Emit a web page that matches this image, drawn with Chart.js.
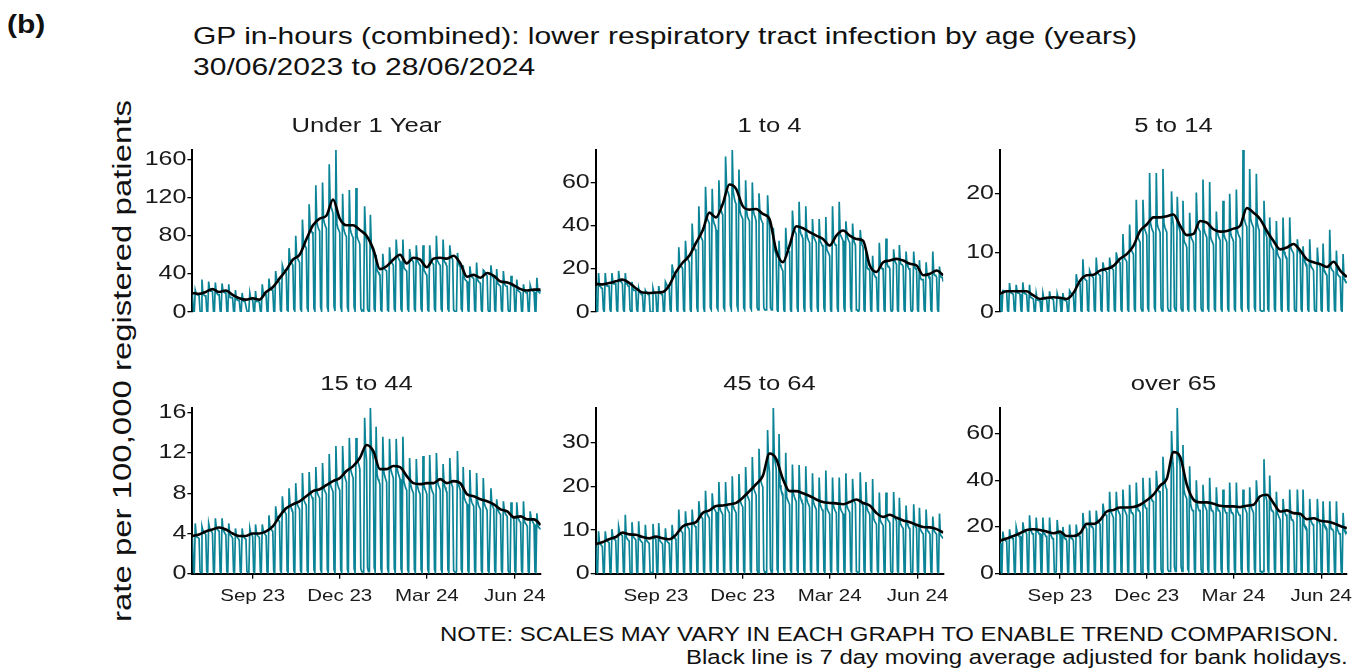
<!DOCTYPE html>
<html><head><meta charset="utf-8">
<script src="https://cdn.jsdelivr.net/npm/chart.js@4.4.1/dist/chart.umd.min.js"></script>
<style>
html,body{margin:0;padding:0;background:#fff;width:1365px;height:671px;overflow:hidden;position:relative;font-family:"Liberation Sans",Arial,sans-serif;color:#111}
canvas{position:absolute}
.t{position:absolute;white-space:nowrap;transform-origin:0 50%}
</style></head><body>
<div class="t" style="left:7px;top:8.8px;font-size:25px;font-weight:bold;line-height:30px;transform:scaleX(1.2)">(b)</div>
<div class="t" style="left:193px;top:19.8px;font-size:24px;line-height:31px;transform:scaleX(1.251)">GP in-hours (combined): lower respiratory tract infection by age (years)<br>30/06/2023 to 28/06/2024</div>
<div class="t" style="left:-177.6px;top:341px;width:600px;height:40px;line-height:40px;text-align:center;font-size:26.5px;transform-origin:50% 50%;transform:rotate(-90deg) scaleX(1.243)">rate per 100,000 registered patients</div>
<div class="t" style="left:440px;top:620.7px;font-size:20px;line-height:26px;transform:scaleX(1.196)">NOTE: SCALES MAY VARY IN EACH GRAPH TO ENABLE TREND COMPARISON.</div>
<div class="t" style="left:686px;top:644.2px;font-size:20px;line-height:26px;transform:scaleX(1.2)">Black line is 7 day moving average adjusted for bank holidays.</div>
<canvas id="c0" width="421" height="220"></canvas>
<canvas id="c1" width="421" height="220"></canvas>
<canvas id="c2" width="418" height="220"></canvas>
<canvas id="c3" width="421" height="255"></canvas>
<canvas id="c4" width="421" height="255"></canvas>
<canvas id="c5" width="418" height="255"></canvas>
<script>
// ---- data (day 0 = 30/06/2023, day 364 = 28/06/2024) ----
const panelNames = ['Under 1 Year','1 to 4','5 to 14','15 to 44','45 to 64','over 65'];
const xTickDays = [63,154,245,337];
const xTickLabels = ['Sep 23','Dec 23','Mar 24','Jun 24'];
const yTicks = [[0,40,80,120,160],[0,20,40,60],[0,10,20],[0,4,8,12,16],[0,10,20,30],[0,20,40,60]];
const maStepDays = 7;

const under1 = [18,1,0,
23,19,18,18,17,1,0, 34,19,18,17,17,1,0, 32,23,22,22,21,1,0, 31,20,19,18,18,1,0, 30,22,21,20,20,1,0,
29,16,15,15,15,1,0, 23,13,13,12,12,1,0, 20,12,11,11,11,1,0, 1,20,14,13,13,1,0, 22,11,11,11,10,1,0,
29,20,19,19,18,1,0, 35,25,24,23,23,1,0, 43,35,33,32,31,2,0, 49,45,43,42,41,2,1, 67,55,53,51,49,3,1,
80,58,56,54,52,3,1, 97,75,71,69,67,4,1, 113,91,86,84,81,4,1, 133,95,90,87,85,5,1, 136,98,93,90,88,5,1,
155,115,110,107,103,6,1, 170,93,88,86,83,5,1, 124,88,84,81,79,5,1, 128,87,83,80,78,5,1, 130,80,76,74,71,4,1,
2,1,111,82,74,3,1, 1,102,70,66,62,3,1, 60,44,42,40,39,2,1, 61,47,45,44,43,2,1, 68,55,52,51,49,3,1,
76,59,57,55,53,3,1, 76,47,45,44,43,3,1, 66,58,55,54,52,3,1, 70,54,52,50,49,3,1, 70,44,42,40,39,2,1,
70,56,53,51,50,3,1, 80,54,52,50,49,3,1, 76,54,52,50,48,3,1, 70,59,57,55,2,1,0, 1,62,52,49,47,3,1,
49,36,34,33,32,2,0, 48,39,37,36,35,2,0, 52,34,32,31,30,2,0, 44,43,41,39,38,2,0, 1,49,39,37,35,2,0,
45,30,29,28,27,2,0, 43,30,28,27,27,2,0, 1,38,29,27,26,1,0, 34,23,22,21,20,1,0, 29,22,21,20,20,1,0,
28,24,23,22,21,1,0, 36,22,21,20,23];

const age1to4 = [12,1,0,
18,12,12,11,11,1,0, 18,13,12,12,12,1,0, 18,14,13,13,13,1,0, 19,15,14,14,13,1,0, 18,13,13,12,12,1,0,
14,11,10,10,10,1,0, 11,9,9,8,8,0,0, 10,9,9,8,8,0,0, 0,11,9,9,8,0,0, 12,9,9,8,8,0,0,
14,13,12,12,11,1,0, 22,19,18,17,17,1,0, 30,22,21,21,20,1,0, 33,26,25,24,23,1,0, 41,32,30,29,28,2,0,
49,37,35,34,33,2,0, 58,46,43,42,41,2,1, 57,43,41,40,38,2,1, 61,50,48,46,45,2,1, 72,59,56,55,53,3,1,
75,56,53,51,50,3,1, 66,47,45,44,43,2,1, 61,47,44,43,42,2,1, 60,47,45,44,42,2,1, 55,46,43,42,41,2,1,
1,1,54,44,40,2,1, 1,39,30,28,26,1,0, 33,22,21,20,19,1,0, 39,30,29,28,28,1,0, 47,40,38,37,36,2,0,
51,38,36,35,34,2,0, 49,36,34,33,32,2,0, 43,35,34,33,32,2,0, 43,33,32,31,30,2,0, 44,29,28,27,26,1,0,
49,34,32,31,31,2,0, 51,36,35,34,33,2,0, 42,36,34,33,32,2,0, 41,34,32,31,1,1,0, 1,38,33,31,30,1,0,
28,21,20,20,19,1,0, 26,18,17,16,16,1,0, 32,22,21,20,20,1,0, 34,23,21,21,20,1,0, 1,29,24,23,22,1,0,
31,23,22,22,21,1,0, 28,22,21,20,20,1,0, 1,28,21,20,20,1,0, 24,16,15,15,15,1,0, 23,17,17,16,16,1,0,
28,18,17,17,16,1,0, 21,17,16,16,14];

const age5to14 = [2.9,0.2,0.1,
3.6,3.6,3.5,3.5,3.3,0.2,0.1, 4.9,3.3,3.2,3.1,3.0,0.2,0.1, 4.6,3.4,3.2,3.2,3.0,0.2,0.1, 5.0,3.3,3.1,3.1,2.9,0.2,0.1,
4.6,2.5,2.4,2.3,2.2,0.1,0, 3.1,2.1,2.0,1.9,1.9,0.1,0, 3.2,2.3,2.2,2.2,2.1,0.1,0, 3.5,2.4,2.3,2.2,2.1,0.1,0,
0.1,3.1,2.4,2.3,2.2,0.1,0, 3.2,2.1,2.0,1.9,1.8,0.1,0, 3.6,3.3,3.1,3.0,2.9,0.1,0, 6.4,5.3,5.1,4.9,4.8,0.2,0.1,
8.9,5.8,5.6,5.4,5.3,0.3,0.1, 7.0,6.5,6.2,6.0,5.8,0.3,0.1, 9.2,6.8,6.5,6.3,6.2,0.3,0.1, 8.4,7.4,7.1,6.9,6.7,0.3,0.1,
9.2,7.9,7.5,7.3,7.1,0.3,0.1, 10.1,9.2,8.8,8.5,8.3,0.4,0.1, 13.2,9.5,9.0,8.8,8.5,0.4,0.1, 14.8,10.9,10.4,10.1,9.8,0.5,0.1,
19.0,13.1,12.5,12.1,11.8,0.6,0.2, 19.0,14.6,13.9,13.5,13.0,0.6,0.2, 23.5,15.0,14.3,13.8,13.4,0.7,0.2, 23.5,14.9,14.2,13.9,13.4,0.7,0.2,
24.2,15.1,14.3,13.9,13.5,0.7,0.2, 0.2,0.1,20.4,16.0,14.5,0.8,0.3, 0.2,19.5,15.0,14.2,13.5,0.6,0.2, 18.8,12.2,11.7,11.4,10.9,0.5,0.2,
16.8,13.0,12.4,12.1,11.7,0.5,0.2, 20.2,15.0,14.3,13.9,13.6,0.6,0.2, 22.4,14.1,13.4,13.0,12.6,0.6,0.2, 22.0,12.7,12.1,11.8,11.4,0.5,0.2,
17.0,13.5,12.9,12.5,12.1,0.5,0.2, 18.8,13.1,12.5,12.2,11.8,0.5,0.2, 20.0,13.4,12.7,12.4,11.9,0.5,0.2, 20.7,13.9,13.2,12.8,12.4,0.6,0.2,
27.4,16.1,15.3,14.8,14.4,0.7,0.2, 24.2,15.8,15.1,14.7,14.2,0.7,0.2, 23.4,15.0,14.3,13.8,0.3,0.2,0.1, 0.2,18.8,13.8,13.2,12.6,0.5,0.2,
16.0,11.7,11.1,10.8,10.4,0.5,0.1, 15.4,10.0,9.5,9.2,8.9,0.4,0.1, 16.0,10.2,9.7,9.4,9.1,0.4,0.1, 16.0,11.0,10.5,10.2,9.9,0.4,0.1,
0.1,12.3,10.6,10.2,9.8,0.4,0.1, 11.1,8.9,8.4,8.2,7.9,0.4,0.1, 12.3,7.9,7.5,7.3,7.0,0.3,0.1, 0.1,10.9,8.3,8.0,7.6,0.3,0.1,
11.6,7.0,6.7,6.5,6.2,0.3,0.1, 13.9,7.6,7.2,7.0,6.8,0.3,0.1, 10.4,6.5,6.2,6.0,5.9,0.3,0.1, 9.8,5.6,5.3,5.1,4.9];

const age15to44 = [3.6,0.2,0.1,
5.0,3.8,3.6,3.6,3.5,0.2,0.1, 4.7,4.3,4.1,4.0,3.9,0.2,0.1, 5.0,4.5,4.3,4.2,4.0,0.2,0.1, 5.5,4.6,4.4,4.3,4.2,0.2,0.1,
5.5,4.4,4.2,4.0,3.9,0.2,0.1, 5.0,4.0,3.8,3.7,3.5,0.2,0.1, 4.5,3.8,3.6,3.5,3.3,0.2,0.1, 4.5,3.7,3.6,3.5,3.4,0.2,0.1,
0.1,4.5,4.0,3.9,3.7,0.2,0.1, 4.9,4.0,3.8,3.7,3.6,0.2,0.1, 4.9,4.3,4.1,3.9,3.8,0.2,0.1, 5.8,4.7,4.5,4.3,4.2,0.2,0.1,
6.7,5.8,5.5,5.3,5.2,0.3,0.1, 7.7,6.6,6.3,6.1,5.9,0.3,0.1, 8.5,6.9,6.6,6.4,6.1,0.3,0.1, 9.0,7.2,6.8,6.6,6.4,0.3,0.1,
10.0,7.5,7.2,7.0,6.8,0.3,0.1, 10.1,8.2,7.8,7.6,7.3,0.4,0.1, 10.6,8.3,7.9,7.7,7.5,0.4,0.1, 11.0,8.7,8.3,8.1,7.9,0.4,0.1,
11.9,9.0,8.6,8.4,8.1,0.4,0.1, 12.7,9.2,8.8,8.5,8.3,0.4,0.1, 12.7,10.2,9.7,9.4,9.1,0.4,0.1, 13.5,10.6,10.1,9.8,9.5,0.5,0.1,
13.5,11.7,11.1,10.8,10.4,0.5,0.2, 0.2,0.1,15.5,12.4,11.3,0.6,0.2, 0.2,16.5,12.6,12.0,11.4,0.6,0.2, 14.6,9.9,9.4,9.2,8.9,0.5,0.1,
13.6,10.2,9.7,9.4,9.1,0.5,0.1, 13.4,10.6,10.1,9.8,9.5,0.5,0.1, 13.4,10.5,10.0,9.7,9.4,0.5,0.1, 13.6,9.2,8.8,8.5,8.3,0.4,0.1,
11.5,8.9,8.5,8.2,8.0,0.4,0.1, 11.4,8.8,8.4,8.1,7.9,0.4,0.1, 11.7,8.8,8.4,8.2,7.9,0.4,0.1, 11.8,8.8,8.4,8.1,7.9,0.4,0.1,
12.0,9.3,8.8,8.6,8.3,0.4,0.1, 10.9,9.0,8.6,8.3,8.1,0.4,0.1, 11.5,9.3,8.9,8.6,0.3,0.2,0.1, 0.2,12.2,8.9,8.6,8.3,0.4,0.1,
10.6,7.6,7.3,7.1,6.9,0.3,0.1, 10.3,7.5,7.1,6.9,6.7,0.3,0.1, 10.0,7.2,6.8,6.6,6.4,0.3,0.1, 9.5,7.0,6.7,6.5,6.3,0.3,0.1,
0.1,8.5,6.9,6.7,6.4,0.3,0.1, 7.4,6.5,6.2,6.0,5.9,0.3,0.1, 7.2,6.3,6.0,5.8,5.7,0.3,0.1, 0.1,7.1,5.8,5.6,5.4,0.3,0.1,
7.1,5.7,5.4,5.2,5.1,0.3,0.1, 7.2,5.2,5.0,4.9,4.7,0.2,0.1, 6.2,5.5,5.3,5.1,4.9,0.2,0.1, 6.0,4.8,4.6,4.5,4.4];

const age45to64 = [6.5,0.4,0.1,
9.7,7.0,6.7,6.5,6.2,0.4,0.1, 9.7,7.9,7.5,7.3,7.1,0.4,0.1, 10.2,8.4,8.0,7.8,7.6,0.4,0.1, 10.8,9.6,9.1,8.9,8.6,0.5,0.1,
13.5,8.4,8.0,7.7,7.5,0.4,0.1, 11.8,8.7,8.3,8.0,7.7,0.4,0.1, 12.0,8.0,7.6,7.3,7.1,0.4,0.1, 11.2,7.8,7.4,7.2,6.9,0.4,0.1,
0.3,11.4,8.4,8.1,7.8,0.4,0.1, 11.6,7.7,7.3,7.1,6.8,0.4,0.1, 10.4,7.7,7.4,7.1,6.9,0.4,0.1, 11.2,8.8,8.4,8.1,7.9,0.4,0.1,
14.7,10.4,9.9,9.6,9.4,0.5,0.1, 14.3,11.3,10.8,10.5,10.1,0.5,0.1, 14.7,11.7,11.2,10.9,10.5,0.5,0.1, 16.6,14.0,13.3,12.9,12.6,0.6,0.2,
19.0,14.2,13.5,13.1,12.7,0.6,0.2, 18.4,15.6,14.9,14.5,14.1,0.6,0.2, 21.0,15.1,14.4,14.0,13.5,0.6,0.2, 21.0,15.5,14.8,14.3,13.9,0.7,0.2,
22.3,15.6,14.8,14.4,13.9,0.7,0.2, 22.8,17.0,16.2,15.7,15.3,0.7,0.2, 24.4,18.6,17.7,17.2,16.6,0.8,0.2, 26.7,20.1,19.1,18.6,18.0,0.8,0.2,
28.6,22.1,21.1,20.4,19.8,0.9,0.3, 0.4,0.2,32.9,25.5,23.2,1.1,0.3, 0.4,38.0,27.0,25.5,24.0,1.0,0.3, 32.0,20.3,19.3,18.7,18.2,0.9,0.3,
27.7,17.7,16.9,16.4,15.8,0.8,0.2, 25.0,18.4,17.6,17.0,16.5,0.8,0.2, 24.9,17.8,17.0,16.4,16.0,0.8,0.2, 24.6,17.1,16.3,15.8,15.2,0.7,0.2,
23.0,16.4,15.7,15.2,14.7,0.7,0.2, 22.0,15.9,15.2,14.7,14.2,0.7,0.2, 23.6,15.2,14.5,14.1,13.6,0.7,0.2, 22.0,15.5,14.8,14.3,13.9,0.7,0.2,
22.0,15.2,14.5,14.1,13.7,0.7,0.2, 23.0,15.6,14.9,14.5,14.0,0.7,0.2, 21.7,17.3,16.5,16.0,0.5,0.4,0.1, 0.5,23.2,16.5,16.0,15.4,0.7,0.2,
21.0,15.1,14.4,14.0,13.5,0.7,0.2, 21.7,12.7,12.1,11.7,11.3,0.6,0.2, 18.6,12.3,11.7,11.4,11.0,0.6,0.2, 18.6,12.9,12.3,12.0,11.6,0.6,0.2,
0.4,18.7,13.0,12.5,12.1,0.6,0.2, 17.4,11.6,11.0,10.7,10.3,0.5,0.1, 15.6,11.5,11.0,10.6,10.3,0.5,0.1, 0.4,15.9,11.2,10.8,10.5,0.5,0.1,
15.1,10.2,9.7,9.4,9.1,0.5,0.1, 14.7,10.2,9.7,9.4,9.1,0.5,0.1, 13.1,10.0,9.6,9.3,9.0,0.5,0.1, 13.8,8.9,8.6,8.3,8.1];

const over65 = [13,1,0,
18,15,15,14,14,1,0, 19,16,16,15,15,1,0, 20,18,17,16,16,1,0, 22,19,18,18,17,1,0, 25,19,18,17,17,1,0,
24,18,18,17,17,1,0, 24,17,17,16,16,1,0, 24,17,16,15,15,1,0, 1,23,18,17,17,1,0, 20,16,15,15,14,1,0,
21,16,15,15,14,1,0, 21,17,17,16,16,1,0, 26,21,20,20,19,1,0, 27,21,20,20,19,1,0, 27,23,22,22,21,1,0,
30,27,26,25,25,1,0, 35,27,26,25,24,1,0, 35,28,27,26,25,1,0, 36,28,27,26,25,1,0, 38,28,26,26,25,1,0,
39,29,27,27,26,1,0, 41,31,29,28,28,2,0, 41,34,32,31,31,2,0, 44,38,36,35,35,2,0, 50,41,39,37,36,2,1,
1,1,61,50,45,3,1, 1,71,52,49,46,3,1, 55,36,34,33,32,2,1, 46,30,28,27,27,2,0, 40,30,28,27,27,2,0,
38,30,29,28,27,2,0, 41,29,27,27,26,2,0, 37,29,27,27,26,2,0, 36,29,27,26,26,2,0, 39,28,26,26,25,2,0,
39,27,26,25,25,2,0, 36,29,28,27,26,2,0, 37,29,28,27,26,2,0, 40,33,32,31,1,1,0, 1,49,34,33,31,2,0,
42,29,27,27,26,2,0, 35,26,25,24,23,1,0, 32,27,26,25,25,1,0, 36,25,23,23,22,1,0, 1,36,26,25,24,1,0,
36,21,20,20,19,1,0, 32,23,22,21,21,1,0, 1,32,23,22,21,1,0, 31,21,20,20,19,1,0, 31,20,19,19,18,1,0,
31,19,18,17,17,1,0, 26,19,18,18,17];

// 7-day moving average, read every 7 days from day 0 to day 364
const maUnder1 = [20,19,21,24,21,22.5,18,14.5,13,14.5,13,21,26,35,44,55,60,76,91,98,101,118,98,91,91,86,80,66,45,48,55,60,51,57,55,47,56,57,56,59,51,37,39,36,41,38,32,31,28,24,22.5,23.5,23.5];
const ma1to4 = [13,12.8,13.4,14.2,15,13.5,11,9,8.8,9,9.2,12.3,18.5,22.8,26,32,37.7,46,43.8,50,59,57,49,47.4,47.7,45.4,43,28.5,23,30.8,39.7,38.8,37,35.4,33.8,30.8,35.4,37.7,35.4,33.8,33,21.5,18.5,23,23.8,24.6,23.8,22.3,21.5,17,17.7,19.2,17];
const ma5to14 = [3.1,3.5,3.5,3.5,3.5,2.8,2.2,2.4,2.5,2.4,2.2,3.2,5.3,6.2,6.3,7,7.3,7.8,9,9.8,11.2,13.7,14.8,16,16,16.2,16.5,14.6,13,13.2,15.4,15.1,14,13.6,13.7,14.1,14.6,17.6,16.8,15.7,13.7,12,10.6,10.9,11.5,10.4,8.9,8.4,8.1,7.6,8.5,7,5.9];
const ma15to44 = [3.75,3.9,4.2,4.4,4.6,4.4,4.0,3.75,3.75,4.0,4.0,4.2,4.7,5.7,6.5,6.9,7.2,7.7,8.2,8.4,8.8,9.2,9.5,10.2,10.7,11.5,12.8,12.2,10.4,10.4,10.7,10.6,9.7,9.0,8.9,9.0,9.0,9.4,9.0,9.2,9.0,7.9,7.7,7.4,7.2,6.9,6.4,6.2,5.6,5.7,5.4,5.4,4.85];
const ma45to64 = [6.8,7.2,7.9,8.4,9.4,9.0,8.9,8.4,8.1,8.5,8.1,7.9,8.9,10.8,11.4,11.8,13.9,14.5,15.5,15.6,15.9,16.2,17.4,18.9,20.5,22.4,27.5,26.3,21.7,18.9,18.9,18.4,17.8,17.0,16.4,16.2,16.1,15.9,16.4,17.0,16.2,15.6,13.9,13.0,13.5,12.8,12.2,11.8,11.2,10.7,10.6,10.2,9.4];
const maOver65 = [14.1,15.1,16.1,17.3,18.7,19.0,18.7,18.0,17.3,18.0,16.1,16.1,17.3,21.3,21.3,23,26.6,27.3,28.3,28.3,28.5,29.5,31.4,33.8,37.7,40.6,52,50,38.1,31.7,30.5,30.5,29.9,29.1,28.8,28.8,28.5,29.1,29.5,33.1,33.8,30.2,26.6,27.1,25.9,25.6,23.3,23.7,22.7,22.3,21.6,20.4,19.4];

const dailySeries = [under1, age1to4, age5to14, age15to44, age45to64, over65];
const maSeries = [maUnder1, ma1to4, ma5to14, ma15to44, ma45to64, maOver65];

// ---- layout ----
const FONT = '"Liberation Sans", Arial, sans-serif';
const TEAL = '#0a8496';
const TXT = '#1a1a1a';
const TEXT_STRETCH = 1.25;
const cols = [{left:140, yw:52.4, pr:20.3},{left:543, yw:52.7, pr:20.7},{left:947, yw:53, pr:18.1}];
const rows = [{top:105, pb:11.7, tt:8.7, tb:11.7, showX:false},{top:363, pb:3.6, tt:8.7, tb:11.4, showX:true}];

// horizontally widen canvas text (the reference uses a wide sans face)
function widenText(ctx, sx) {
  const fill = ctx.fillText.bind(ctx), measure = ctx.measureText.bind(ctx);
  ctx.fillText = function (t, x, y) {
    ctx.save(); ctx.translate(x, y); ctx.scale(sx, 1); fill(t, 0, 0); ctx.restore();
  };
  ctx.measureText = function (t) {
    const m = measure(t);
    return { width: m.width * sx,
      actualBoundingBoxAscent: m.actualBoundingBoxAscent, actualBoundingBoxDescent: m.actualBoundingBoxDescent,
      actualBoundingBoxLeft: m.actualBoundingBoxLeft * sx, actualBoundingBoxRight: m.actualBoundingBoxRight * sx,
      fontBoundingBoxAscent: m.fontBoundingBoxAscent, fontBoundingBoxDescent: m.fontBoundingBoxDescent };
  };
}

for (let i = 0; i < 6; i++) {
  const col = cols[i % 3], row = rows[Math.floor(i / 3)];
  const cv = document.getElementById('c' + i);
  cv.style.left = col.left + 'px';
  cv.style.top = row.top + 'px';
  widenText(cv.getContext('2d'), TEXT_STRETCH);
  const daily = dailySeries[i];
  const ymax = Math.max(...daily);
  new Chart(cv, {
    type: 'line',
    data: { datasets: [
      { data: daily.map((v, d) => ({x: d, y: v})), borderColor: TEAL, borderWidth: 1.7,
        pointRadius: 0, tension: 0, order: 1 },
      { data: maSeries[i].map((v, j) => ({x: j * maStepDays, y: v})), borderColor: '#000', borderWidth: 2.6,
        pointRadius: 0, cubicInterpolationMode: 'monotone', order: 0 }
    ]},
    options: {
      responsive: false, animation: false, devicePixelRatio: 1, events: [],
      layout: { padding: { left: 0, right: col.pr, top: 0, bottom: row.pb } },
      plugins: {
        legend: { display: false }, tooltip: { enabled: false },
        title: { display: true, text: panelNames[i], fullSize: false, color: TXT,
          font: { family: FONT, size: 20.5, weight: 'normal' }, padding: { top: row.tt, bottom: row.tb } }
      },
      scales: {
        x: {
          type: 'linear', min: 0, max: 364, display: row.showX,
          afterBuildTicks: s => { s.ticks = xTickDays.map(v => ({value: v})); },
          grid: { display: true, drawOnChartArea: false, drawTicks: true, tickLength: 5, color: '#000', lineWidth: 1.3 },
          border: { display: true, color: '#000', width: 2 },
          ticks: { autoSkip: false, maxRotation: 0, minRotation: 0, padding: 8, color: TXT,
            font: { family: FONT, size: 16.4 }, callback: (v, idx) => xTickLabels[idx] }
        },
        y: {
          type: 'linear', min: 0, max: ymax,
          afterBuildTicks: s => { s.ticks = yTicks[i].map(v => ({value: v})); },
          afterFit: s => { s.width = col.yw; },
          grid: { display: true, drawOnChartArea: false, drawTicks: true, tickLength: 5, color: '#000', lineWidth: 1.3 },
          border: { display: true, color: '#000', width: 2 },
          ticks: { padding: 1, color: TXT, font: { family: FONT, size: 20 }, callback: v => String(v) }
        }
      }
    }
  });
}
</script>
</body></html>
